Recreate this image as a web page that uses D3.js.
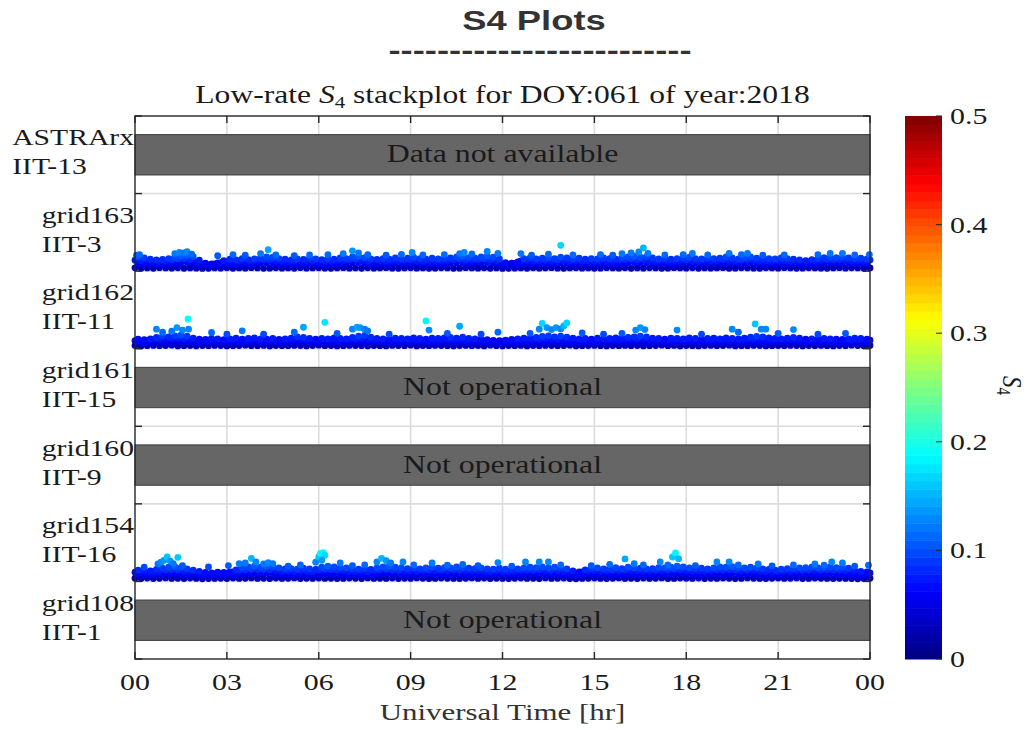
<!DOCTYPE html>
<html><head><meta charset="utf-8">
<script src="https://cdn.jsdelivr.net/npm/d3@7"></script>
<style>body{margin:0;background:#fff}svg{display:block}</style>
</head><body><svg id="c" width="1029" height="730"></svg>
<script>
// ---------------- DATA ----------------
const stations  = ["ASTRArx","grid163","grid162","grid161","grid160","grid154","grid108"];
const receivers = ["IIT-13","IIT-3","IIT-11","IIT-15","IIT-9","IIT-16","IIT-1"];
const status    = ["Data not available",null,null,"Not operational","Not operational",null,"Not operational"];
const xTicks      = [0,3,6,9,12,15,18,21,24];
const xTickLabels = ["00","03","06","09","12","15","18","21","00"];
const cbTicks      = [0,0.1,0.2,0.3,0.4,0.5];
const cbTickLabels = ["0","0.1","0.2","0.3","0.4","0.5"];
const sampleStep = 0.2; // hours between samples in each layer

const g163Low=[.032,.030,.031,.029,.033,.031,.030,.032,.029,.031,.030,.028,.029,.031,.030,.032,.029,.031,.030,.033,.031,.029,.030,.032,.030,.031,.029,.033,.030,.031,.032,.030,.029,.031,.033,.030,.031,.029,.032,.030,.031,.033,.030,.029,.031,.032,.030,.031,.029,.030,.032,.031,.029,.030,.033,.031,.030,.032,.029,.031,.028,.029,.030,.031,.029,.032,.030,.031,.033,.030,.029,.031,.032,.030,.031,.029,.030,.033,.031,.030,.032,.029,.031,.030,.032,.031,.029,.030,.033,.031,.030,.032,.029,.031,.030,.031,.033,.029,.030,.032,.031,.030,.029,.032,.031,.030,.033,.031,.029,.030,.032,.031,.030,.029,.031,.033,.030,.032,.031,.029,.031];
const g163Mid=[.058,.055,.052,.054,.056,.058,.060,.062,.064,.060,.052,.046,.044,.048,.054,.056,.055,.058,.057,.056,.060,.062,.061,.058,.056,.055,.057,.056,.059,.057,.056,.058,.057,.060,.059,.062,.064,.060,.057,.056,.058,.057,.060,.058,.059,.061,.058,.057,.059,.058,.059,.060,.062,.064,.061,.060,.062,.064,.060,.056,.048,.045,.050,.057,.060,.058,.059,.061,.059,.062,.060,.058,.059,.057,.058,.057,.060,.058,.057,.061,.062,.064,.061,.063,.060,.058,.059,.057,.059,.060,.062,.059,.058,.060,.059,.060,.062,.060,.058,.061,.062,.059,.057,.059,.058,.060,.058,.057,.055,.053,.056,.058,.060,.062,.061,.062,.060,.059,.060,.058,.061];
const g163Up=[.078,.074,.070,.068,.071,.074,.080,.086,.090,.082,.066,.052,.050,.055,.064,.070,.068,.074,.070,.072,.078,.082,.080,.074,.071,.068,.072,.070,.076,.072,.070,.074,.071,.077,.074,.082,.086,.078,.072,.070,.074,.071,.077,.072,.076,.080,.074,.071,.076,.072,.074,.077,.082,.086,.079,.076,.082,.087,.080,.072,.056,.052,.058,.074,.077,.072,.076,.079,.074,.080,.077,.072,.076,.071,.074,.072,.077,.074,.071,.079,.082,.086,.080,.084,.077,.072,.076,.071,.074,.077,.080,.074,.072,.077,.074,.076,.082,.077,.072,.079,.082,.076,.071,.074,.072,.077,.074,.071,.068,.065,.069,.074,.078,.082,.079,.082,.077,.074,.076,.072,.080];
const g163Top=[.098,.092,.084,.080,.083,.088,.095,.104,.108,.100,.078,.060,.056,.062,.076,.084,.080,.088,.082,.086,.092,.098,.096,.088,.084,.080,.086,.083,.090,.086,.082,.088,.084,.092,.088,.098,.102,.094,.086,.083,.088,.084,.092,.086,.090,.096,.088,.084,.090,.086,.088,.092,.098,.102,.094,.090,.098,.104,.096,.086,.064,.060,.068,.088,.092,.086,.090,.094,.088,.096,.092,.086,.090,.084,.088,.086,.092,.088,.084,.094,.098,.102,.096,.100,.092,.086,.090,.084,.088,.092,.096,.088,.086,.092,.088,.090,.098,.092,.086,.094,.098,.090,.084,.088,.086,.092,.088,.084,.080,.076,.082,.088,.093,.098,.094,.098,.092,.088,.090,.086,.096];
const g163Hours=[0.05,0.15,1.3,1.45,1.6,1.7,1.85,2.7,3.2,3.6,4.1,4.35,4.6,5.2,5.7,6.3,6.8,7.1,7.3,7.6,8.2,8.7,9.05,9.4,10.1,10.6,10.75,11.0,11.5,11.85,12.6,12.95,13.5,13.9,14.3,15.2,15.6,15.9,16.2,16.45,16.6,16.75,17.3,17.9,18.2,18.7,19.4,19.8,20.0,20.5,21.2,22.3,22.7,23.1,23.5,23.98];
const g163Peaks=[.108,.112,.118,.126,.122,.130,.115,.105,.112,.108,.118,.142,.110,.106,.110,.112,.118,.135,.122,.112,.108,.114,.125,.110,.112,.118,.125,.116,.132,.120,.118,.108,.115,.168,.110,.112,.108,.118,.122,.128,.152,.120,.110,.112,.120,.110,.120,.112,.120,.108,.110,.112,.120,.120,.110,.112];

const g162Low=[.031,.029,.030,.032,.030,.031,.033,.029,.030,.031,.029,.031,.030,.032,.031,.029,.030,.031,.033,.030,.030,.032,.029,.031,.030,.030,.032,.031,.029,.031,.033,.030,.031,.029,.030,.032,.031,.030,.029,.031,.030,.029,.032,.031,.030,.033,.029,.031,.030,.032,.031,.030,.029,.031,.032,.030,.031,.029,.033,.030,.029,.031,.030,.032,.029,.031,.030,.032,.031,.030,.031,.033,.029,.030,.031,.032,.030,.029,.031,.030,.032,.030,.031,.029,.030,.031,.033,.030,.032,.029,.031,.030,.029,.031,.032,.030,.031,.033,.029,.030,.030,.032,.031,.029,.030,.031,.030,.032,.031,.029,.031,.030,.032,.030,.029,.031,.030,.033,.031,.030,.032];
const g162Mid=[.050,.048,.052,.054,.056,.054,.052,.056,.055,.050,.048,.050,.052,.049,.051,.053,.050,.048,.051,.052,.050,.049,.052,.051,.050,.053,.054,.052,.050,.051,.053,.050,.052,.051,.054,.056,.057,.055,.052,.050,.051,.049,.052,.050,.051,.053,.052,.051,.050,.052,.054,.052,.050,.053,.051,.052,.050,.048,.046,.045,.046,.048,.050,.052,.051,.053,.056,.057,.055,.056,.053,.051,.049,.051,.050,.052,.050,.051,.053,.052,.054,.055,.053,.051,.050,.052,.050,.053,.051,.050,.052,.051,.049,.051,.052,.050,.053,.052,.050,.051,.054,.055,.053,.051,.050,.052,.051,.053,.050,.049,.051,.050,.052,.050,.051,.049,.050,.052,.051,.050,.052];
const g162Up=[.060,.058,.062,.066,.072,.070,.074,.076,.072,.064,.060,.059,.063,.061,.058,.062,.064,.060,.063,.066,.062,.060,.063,.059,.062,.064,.070,.067,.063,.060,.063,.062,.066,.063,.062,.067,.072,.075,.068,.063,.062,.060,.064,.063,.062,.066,.063,.060,.064,.063,.066,.067,.064,.068,.063,.062,.060,.057,.054,.052,.055,.058,.062,.064,.063,.067,.071,.074,.070,.072,.068,.064,.062,.063,.060,.064,.062,.063,.066,.064,.067,.070,.072,.070,.064,.063,.060,.064,.063,.062,.066,.063,.060,.063,.064,.062,.066,.063,.062,.064,.068,.071,.070,.066,.063,.062,.064,.067,.064,.060,.062,.060,.063,.062,.060,.058,.062,.064,.063,.060,.063];
const g162Top=[.070,.066,.072,.080,.088,.084,.090,.094,.088,.076,.070,.068,.074,.071,.066,.072,.076,.070,.074,.078,.072,.070,.074,.068,.072,.076,.084,.080,.074,.070,.074,.072,.078,.074,.072,.080,.088,.092,.082,.074,.072,.070,.076,.074,.072,.078,.074,.070,.076,.074,.078,.080,.076,.082,.074,.072,.070,.066,.062,.060,.064,.068,.072,.076,.074,.080,.086,.090,.084,.088,.082,.076,.072,.074,.070,.076,.072,.074,.078,.076,.080,.084,.088,.084,.076,.074,.070,.076,.074,.072,.078,.074,.070,.074,.076,.072,.078,.074,.072,.076,.082,.086,.084,.078,.074,.072,.076,.080,.076,.070,.072,.070,.074,.072,.070,.068,.072,.076,.074,.070,.074];
const g162Hours=[0.7,0.9,1.2,1.37,1.55,1.73,1.75,2.5,3.0,3.5,4.2,5.2,5.5,6.2,6.6,7.1,7.25,7.35,7.5,7.6,8.3,9.5,9.6,10.2,10.6,11.3,11.85,12.9,13.2,13.3,13.45,13.6,13.75,13.9,14.0,14.1,14.6,15.3,15.9,16.35,16.5,16.65,17.7,18.5,19.5,19.7,20.25,20.45,20.6,21.0,21.5,22.3,23.2];
const g162Peaks=[.130,.112,.118,.140,.125,.192,.130,.110,.100,.120,.100,.112,.142,.172,.105,.130,.142,.140,.130,.120,.100,.180,.125,.105,.148,.100,.112,.105,.130,.165,.140,.128,.140,.132,.150,.168,.108,.100,.105,.125,.140,.128,.125,.100,.130,.112,.162,.130,.130,.105,.128,.100,.105];

const g154Low=[.031,.030,.032,.029,.031,.033,.030,.031,.029,.032,.030,.028,.029,.030,.031,.029,.032,.030,.031,.033,.030,.031,.029,.032,.030,.031,.033,.029,.031,.030,.032,.030,.031,.029,.030,.032,.031,.029,.033,.030,.031,.030,.032,.029,.031,.030,.033,.031,.029,.030,.032,.031,.030,.029,.031,.033,.030,.032,.029,.031,.030,.029,.031,.032,.030,.031,.029,.033,.030,.031,.032,.029,.028,.030,.031,.032,.030,.029,.031,.033,.030,.031,.029,.032,.030,.031,.033,.029,.030,.032,.031,.030,.032,.029,.031,.030,.032,.031,.029,.030,.033,.031,.030,.029,.031,.032,.030,.031,.033,.029,.030,.032,.031,.030,.029,.031,.030,.029,.028,.030,.031];
const g154Mid=[.056,.054,.055,.058,.060,.062,.060,.058,.056,.054,.050,.048,.047,.049,.050,.052,.056,.060,.062,.061,.060,.062,.060,.058,.056,.057,.055,.058,.056,.055,.060,.062,.060,.058,.059,.056,.055,.057,.055,.058,.060,.062,.060,.058,.057,.058,.056,.058,.060,.057,.058,.057,.060,.058,.057,.056,.058,.056,.055,.057,.055,.054,.056,.058,.060,.059,.061,.058,.060,.057,.055,.050,.048,.053,.057,.058,.056,.057,.059,.057,.060,.058,.057,.056,.057,.059,.058,.060,.062,.060,.058,.056,.057,.056,.058,.060,.059,.061,.058,.057,.060,.058,.056,.054,.052,.055,.057,.056,.058,.059,.060,.058,.059,.061,.059,.060,.057,.052,.049,.048,.050];
const g154Up=[.068,.066,.065,.071,.077,.081,.084,.080,.074,.068,.062,.057,.055,.058,.057,.060,.070,.080,.083,.086,.082,.086,.083,.078,.074,.076,.072,.077,.074,.071,.082,.086,.083,.080,.078,.074,.072,.076,.071,.078,.083,.086,.081,.080,.076,.077,.074,.078,.081,.077,.080,.078,.083,.080,.077,.076,.078,.074,.072,.077,.072,.071,.074,.078,.081,.080,.083,.078,.081,.077,.074,.064,.060,.069,.076,.078,.074,.077,.080,.076,.081,.078,.077,.074,.076,.080,.078,.081,.086,.083,.078,.076,.077,.074,.078,.083,.081,.084,.080,.078,.081,.078,.074,.071,.068,.072,.076,.074,.078,.080,.081,.078,.080,.083,.080,.081,.077,.066,.062,.060,.063];
const g154Top=[.080,.078,.076,.084,.092,.098,.102,.096,.088,.080,.072,.066,.064,.068,.066,.070,.082,.096,.100,.104,.098,.104,.100,.094,.088,.090,.086,.092,.088,.084,.098,.104,.100,.096,.094,.088,.086,.090,.084,.094,.100,.104,.098,.096,.090,.092,.088,.094,.098,.092,.096,.094,.100,.096,.092,.090,.094,.088,.086,.092,.086,.084,.088,.094,.098,.096,.100,.094,.098,.092,.088,.076,.070,.082,.090,.094,.088,.092,.096,.090,.098,.094,.092,.088,.090,.096,.094,.098,.104,.100,.094,.090,.092,.088,.094,.100,.098,.102,.096,.094,.098,.094,.088,.084,.080,.086,.090,.088,.094,.096,.098,.094,.096,.100,.096,.098,.092,.078,.072,.070,.074];
const g154Hours=[0.3,0.75,0.85,0.95,1.05,1.15,1.25,1.4,1.55,2.4,3.05,3.4,3.6,3.8,3.95,4.2,4.35,4.5,5.0,5.4,5.9,6.0,6.05,6.15,6.2,6.1,6.7,7.1,7.5,7.9,8.05,8.2,8.35,8.75,9.1,9.7,10.2,10.7,11.2,11.85,12.3,12.75,13.2,13.5,13.9,14.9,15.5,16.0,16.3,16.6,17.15,17.4,17.55,17.65,17.75,18.3,19.0,19.4,19.7,20.35,20.8,21.5,22.2,22.5,22.75,23.1,23.5,23.95];
const g154Peaks=[.098,.118,.128,.140,.160,.135,.120,.158,.108,.100,.108,.120,.124,.152,.130,.118,.126,.120,.105,.112,.128,.160,.182,.186,.170,.140,.124,.108,.112,.130,.152,.138,.124,.130,.112,.124,.110,.115,.108,.126,.104,.130,.130,.130,.112,.108,.115,.148,.120,.112,.130,.112,.160,.184,.150,.108,.130,.130,.112,.118,.106,.112,.118,.110,.130,.124,.104,.110];

const series = {
  grid163:{low:g163Low, mid:g163Mid, up:g163Up, top:g163Top, hours:g163Hours, peaks:g163Peaks},
  grid162:{low:g162Low, mid:g162Mid, up:g162Up, top:g162Top, hours:g162Hours, peaks:g162Peaks},
  grid154:{low:g154Low, mid:g154Mid, up:g154Up, top:g154Top, hours:g154Hours, peaks:g154Peaks}
};

// ---------------- LAYOUT / STYLE ----------------
const SX = 1.3;
const serif = "'Liberation Serif','Times New Roman',serif";
const ink = "#1a1a1a";
const P = {l:135, r:870, t:116, b:659};
const svg = d3.select("#c");

const x = d3.scaleLinear().domain([0,24]).range([P.l,P.r]);
const row = d3.scaleBand().domain(stations).range([P.t,P.b]);
const bw = row.bandwidth();
const S4MIN = 0.0118, PXPER = 165;
const yIn = st => d3.scaleLinear().domain([S4MIN, S4MIN + bw/PXPER]).range([row(st)+bw, row(st)]);
const cbY = d3.scaleLinear().domain([0,0.5]).range([P.b,P.t]);

function jet(t){const c=v=>Math.max(0,Math.min(1,v));
  return d3.rgb(255*c(1.5-Math.abs(4*t-3)),255*c(1.5-Math.abs(4*t-2)),255*c(1.5-Math.abs(4*t-1)));}
function jet64(t){let i=Math.floor(t*64);i=Math.max(0,Math.min(63,i));return jet((i+0.5)/64);}
const color = v => jet64(v/0.5).formatHex();

function label(g, px, py, str, o={}){
  const t = g.append("text")
    .attr("transform",`translate(${px},${py}) scale(${o.sx||SX},1)`)
    .attr("font-family", o.family||serif)
    .attr("font-size", o.size||23)
    .attr("font-weight", o.weight||"normal")
    .attr("fill", o.fill||ink)
    .attr("text-anchor", o.anchor||"start");
  if(str!==null) t.text(str);
  return t;
}

// ---------------- TITLES ----------------
label(svg, 534, 30, "S4 Plots", {family:"'Liberation Sans',Arial,sans-serif", weight:"bold", size:28, fill:"#333", anchor:"middle"});
label(svg, 540, 60, "-------------------------", {family:"'Liberation Sans',Arial,sans-serif", weight:"bold", size:28, fill:"#333", anchor:"middle"});
const sub = label(svg, 502.5, 103, null, {size:24.3, anchor:"middle"});
sub.append("tspan").text("Low-rate ");
sub.append("tspan").attr("font-style","italic").text("S");
sub.append("tspan").attr("font-size",16).attr("dy",5).text("4");
sub.append("tspan").attr("dy",-5).text(" stackplot for DOY:061 of year:2018");

// ---------------- GRID ----------------
const bounds = stations.map(s=>row(s)).concat([P.b]);
const grid = svg.append("g").attr("stroke","#dcdcdc").attr("stroke-width",1.6);
grid.selectAll("line.v").data(xTicks.slice(1,-1)).join("line")
  .attr("x1",d=>x(d)).attr("x2",d=>x(d)).attr("y1",P.t).attr("y2",P.b);
grid.selectAll("line.h").data(bounds.slice(1,-1)).join("line").attr("class","h")
  .attr("x1",P.l).attr("x2",P.r).attr("y1",d=>d).attr("y2",d=>d);

// ---------------- UNAVAILABLE BARS ----------------
const bars = svg.append("g");
stations.forEach((st,i)=>{
  if(!status[i]) return;
  bars.append("rect").attr("x",P.l).attr("width",P.r-P.l)
    .attr("y",row(st)+bw*0.24).attr("height",bw*0.52)
    .attr("fill","#666").attr("stroke","#3a3a3a").attr("stroke-width",1);
  label(bars, (P.l+P.r)/2, row(st)+bw/2+7.5, status[i], {size:24.5, anchor:"middle"});
});

// ---------------- SCATTER ----------------
const dots = svg.append("g");
const half = sampleStep/2;
Object.keys(series).forEach(st=>{
  const s = series[st], y = yIn(st);
  const pts = [];
  s.low.forEach((v,i)=>pts.push({h:i*sampleStep, v}));
  s.mid.forEach((v,i)=>pts.push({h:i*sampleStep+half, v}));
  s.up.forEach((v,i)=>pts.push({h:i*sampleStep, v}));
  s.top.forEach((v,i)=>pts.push({h:i*sampleStep+half, v}));
  s.hours.forEach((h,i)=>pts.push({h, v:s.peaks[i]}));
  dots.append("g").selectAll("circle").data(pts.filter(p=>p.h<=24.001)).join("circle")
    .attr("cx",p=>x(p.h)).attr("cy",p=>y(p.v)).attr("r",3.4)
    .attr("fill",p=>color(p.v));
});

// ---------------- AXES BOX & TICKS ----------------
const ax = svg.append("g").attr("stroke","#262626").attr("stroke-width",1.4).attr("fill","none");
ax.append("rect").attr("x",P.l).attr("y",P.t).attr("width",P.r-P.l).attr("height",P.b-P.t);
xTicks.forEach(t=>{
  ax.append("line").attr("x1",x(t)).attr("x2",x(t)).attr("y1",P.t).attr("y2",P.t+7);
  ax.append("line").attr("x1",x(t)).attr("x2",x(t)).attr("y1",P.b).attr("y2",P.b-7);
});
bounds.forEach(b=>{
  ax.append("line").attr("x1",P.l).attr("x2",P.l+7).attr("y1",b).attr("y2",b);
  ax.append("line").attr("x1",P.r).attr("x2",P.r-7).attr("y1",b).attr("y2",b);
});
xTicks.forEach((t,i)=>label(svg, x(t), 690, xTickLabels[i], {size:23, anchor:"middle"}));
label(svg, (P.l+P.r)/2, 720, "Universal Time [hr]", {size:23.8, anchor:"middle", fill:"#333"});

// ---------------- ROW LABELS ----------------
svg.append("clipPath").attr("id","lc").append("rect").attr("x",9).attr("y",0).attr("width",130).attr("height",730);
const lg = svg.append("g").attr("clip-path","url(#lc)");
stations.forEach((st,i)=>{
  const cy = row(st)+bw/2;
  const t1 = label(lg, 0, cy-9.5, st, {size:22.8});
  const w = t1.node().getComputedTextLength()*SX;
  const left = 134 - w;
  t1.attr("transform",`translate(${left},${cy-9.5}) scale(${SX},1)`);
  label(lg, left, cy+19.5, receivers[i], {size:22.8});
});

// ---------------- COLORBAR ----------------
const cbX = 905, cbW = 37;
const cb = svg.append("g");
d3.range(64).forEach(i=>{
  const v0 = i/64*0.5, v1=(i+1)/64*0.5;
  cb.append("rect").attr("x",cbX).attr("width",cbW)
    .attr("y",cbY(v1)).attr("height",cbY(v0)-cbY(v1)+0.5)
    .attr("fill",jet((i+0.5)/64).formatHex());
});
cbTicks.forEach((t,i)=>{
  cb.append("line").attr("x1",cbX+cbW).attr("x2",cbX+cbW-6).attr("y1",cbY(t)).attr("y2",cbY(t))
    .attr("stroke","#262626").attr("stroke-width",1);
  label(cb, 950, cbY(t)+8, cbTickLabels[i], {size:23});
});
const cbl = svg.append("text")
  .attr("transform",`translate(1003,376) rotate(90) scale(1,1.2)`)
  .attr("font-family",serif).attr("font-size",23).attr("fill",ink);
cbl.append("tspan").attr("font-style","italic").text("S");
cbl.append("tspan").attr("font-size",15).attr("dy",5).text("4");
</script></body></html>
